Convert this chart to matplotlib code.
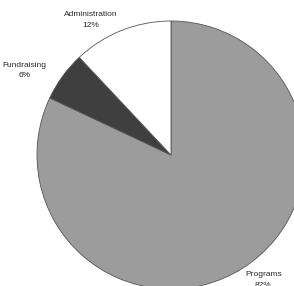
import matplotlib
matplotlib.use("Agg")
import matplotlib.pyplot as plt
import numpy as np

categories = ["Programs", "Fundraising", "Administration"]
values = [82, 6, 12]
colors = ["#9c9c9c", "#3f3f3f", "#ffffff"]
pct_labels = ["82%", "6%", "12%"]
label_angle_shift = [4, 6, 9]      # degrees, nudge from wedge mid-angle
label_radius = [1.16, 1.26, 1.17]

plt.rcParams['font.family'] = ['Liberation Sans', 'DejaVu Sans']

fig = plt.figure(figsize=(2.94, 2.86), dpi=100)
ax = fig.add_axes([0, 0, 1, 1])
wedges, _ = ax.pie(values, colors=colors, startangle=90, counterclock=False,
                   wedgeprops=dict(edgecolor="#555555", linewidth=0.6))

for w, cat, pct, da, r in zip(wedges, categories, pct_labels, label_angle_shift, label_radius):
    mid = np.deg2rad((w.theta1 + w.theta2) / 2 + da)
    ax.text(r * np.cos(mid), r * np.sin(mid), f"{cat}\n{pct}", ha="center", va="center",
            fontsize=6, color="#2a2a2a", linespacing=1.75, clip_on=False)

scale = 134.0
ax.set_xlim(-171 / scale, (294 - 171) / scale)
ax.set_ylim(-(286 - 155) / scale, 155 / scale)
ax.set_aspect('auto')
ax.axis('off')
fig.savefig("out.png", dpi=100, facecolor="white")
